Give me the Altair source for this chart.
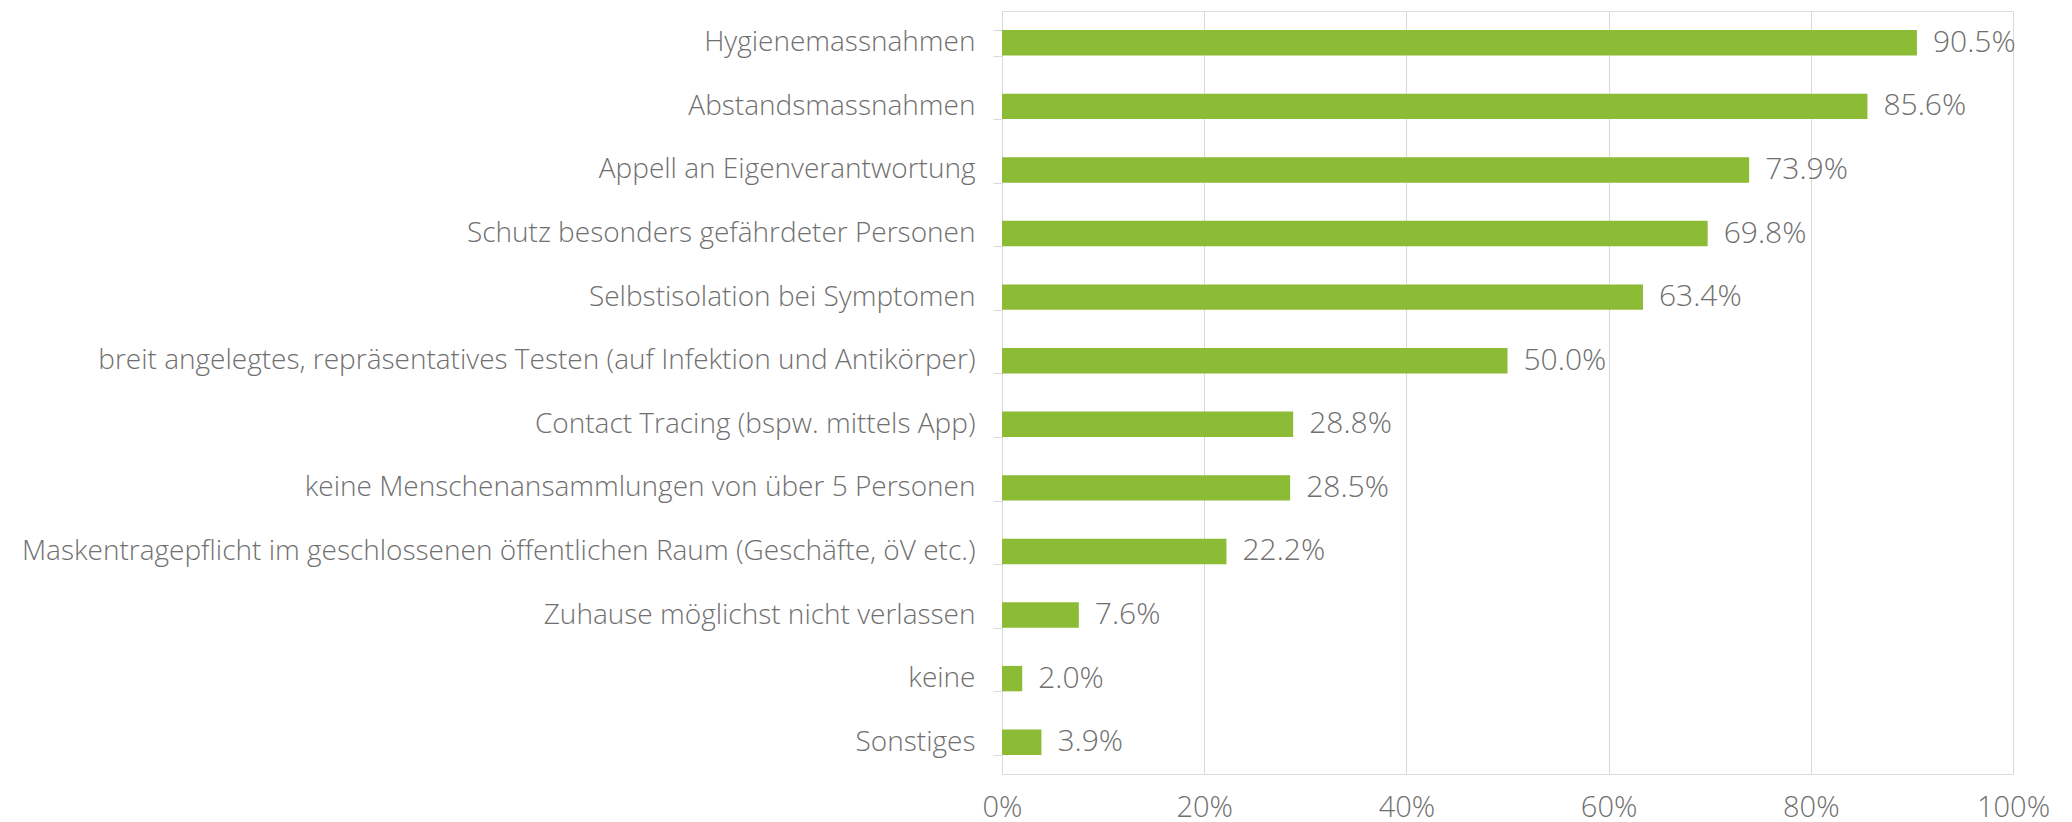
import altair as alt
import pandas as pd

categories = [
    "Hygienemassnahmen",
    "Abstandsmassnahmen",
    "Appell an Eigenverantwortung",
    "Schutz besonders gefährdeter Personen",
    "Selbstisolation bei Symptomen",
    "breit angelegtes, repräsentatives Testen (auf Infektion und Antikörper)",
    "Contact Tracing (bspw. mittels App)",
    "keine Menschenansammlungen von über 5 Personen",
    "Maskentragepflicht im geschlossenen öffentlichen Raum (Geschäfte, öV etc.)",
    "Zuhause möglichst nicht verlassen",
    "keine",
    "Sonstiges",
]
values = [90.5, 85.6, 73.9, 69.8, 63.4, 50.0, 28.8, 28.5, 22.2, 7.6, 2.0, 3.9]

df = pd.DataFrame({"cat": categories, "val": [v / 100 for v in values]})
df["label"] = [f"{v:.1f}%" for v in values]

FONT = "Open Sans"
GRAY = "#707070"

y_enc = alt.Y("cat:N", sort=categories, title=None,
              scale=alt.Scale(paddingInner=0.6, paddingOuter=0.3),
              axis=alt.Axis(tickBand="extent", tickSize=9, tickColor="#d9d9d9",
                            domainColor="#d9d9d9", labelPadding=18,
                            labelFont=FONT, labelFontSize=28, labelFontWeight=300,
                            labelColor=GRAY, labelLimit=1000, grid=False))

x_enc = alt.X("val:Q", title=None,
              scale=alt.Scale(domain=[0, 1], nice=False),
              axis=alt.Axis(format=".0%", values=[0, 0.2, 0.4, 0.6, 0.8, 1.0],
                            grid=True, gridColor="#d9d9d9", domain=False, ticks=False,
                            labelFlush=False, labelPadding=19, labelFont=FONT,
                            labelFontSize=29, labelFontWeight=300, labelColor=GRAY))

bars = alt.Chart(df).mark_bar(color="#8cbb35").encode(x=x_enc, y=y_enc)
text = alt.Chart(df).mark_text(align="left", baseline="middle", dx=16,
                               font=FONT, fontSize=30, fontWeight=300, color=GRAY).encode(
    x="val:Q", y=alt.Y("cat:N", sort=categories), text="label:N")

chart = (bars + text).properties(
    width=1011, height=763, autosize="none",
    padding={"left": 994, "top": 3, "right": 50, "bottom": 48},
).configure_view(stroke=None).configure(background="white")

chart.save("out.html", embed_options={"renderer": "svg", "actions": False})
